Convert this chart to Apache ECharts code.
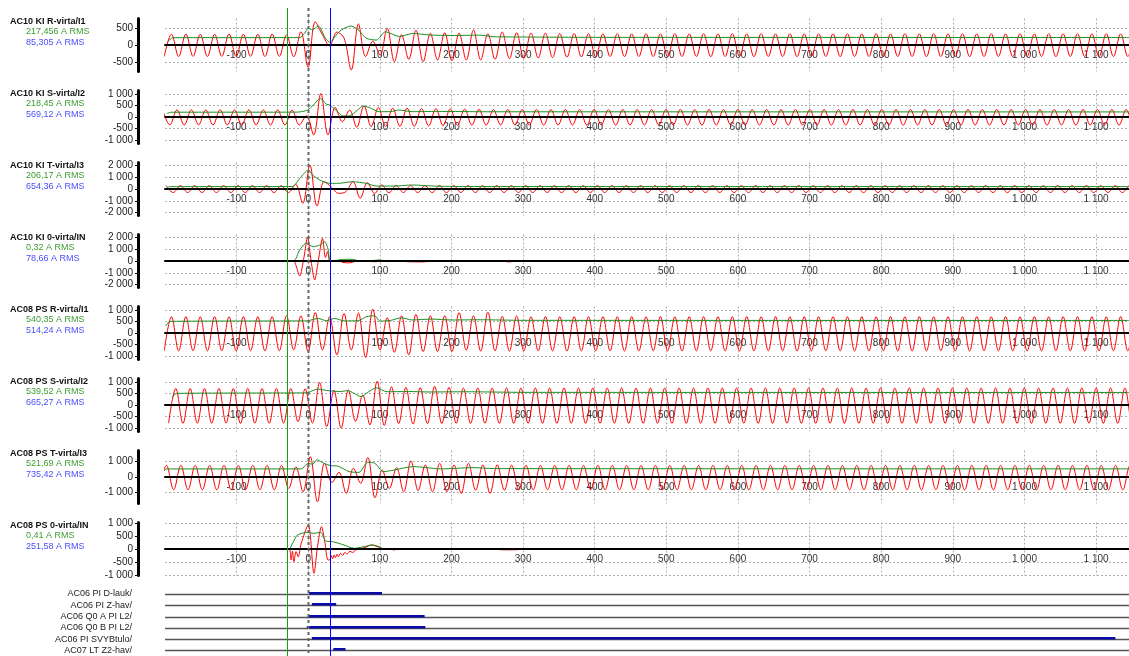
<!DOCTYPE html>
<html>
<head>
<meta charset="utf-8">
<script src="https://cdn.jsdelivr.net/npm/echarts@6/dist/echarts.min.js"></script>
<style>
  html, body { margin: 0; padding: 0; background: #fff; }
  #chart { width: 1129px; height: 656px; }
</style>
</head>
<body>
<div id="chart"></div>
<script>
// ---------------------------------------------------------------------------
// Disturbance record: feeders AC10 and AC08, phase and neutral currents (A),
// time in ms relative to the trigger.
// ---------------------------------------------------------------------------
const timeRange = [-200, 1146];
const cursorTimes = [-30, 0, 30];

const channelNames = [
  'AC10 KI R-virta/I1', 'AC10 KI S-virta/I2', 'AC10 KI T-virta/I3', 'AC10 KI 0-virta/IN',
  'AC08 PS R-virta/I1', 'AC08 PS S-virta/I2', 'AC08 PS T-virta/I3', 'AC08 PS 0-virta/IN'
];
const rmsTexts = [
  '217,456 A RMS', '218,45 A RMS', '206,17 A RMS', '0,32 A RMS',
  '540,35 A RMS', '539,52 A RMS', '521,69 A RMS', '0,41 A RMS'
];
const cursorTexts = [
  '85,305 A RMS', '569,12 A RMS', '654,36 A RMS', '78,66 A RMS',
  '514,24 A RMS', '665,27 A RMS', '735,42 A RMS', '251,58 A RMS'
];

// value-axis half ranges and tick labels for each channel
const axisRanges = [780, 1140, 2250, 2250, 1140, 1140, 1700, 1020];
const yTicks = [
  [-500, 0, 500],
  [-1000, -500, 0, 500, 1000],
  [-2000, -1000, 0, 1000, 2000],
  [-2000, -1000, 0, 1000, 2000],
  [-1000, -500, 0, 500, 1000],
  [-1000, -500, 0, 500, 1000],
  [-1000, 0, 1000],
  [-1000, -500, 0, 500, 1000]
];

// Phase currents: successive extrema, one per half cycle, starting at t0 (ms)
const HALF_CYCLE = 10.04;

const ac10R_t0 = -201;
const ac10R = [
  -335, 320, -340, 325, -335, 320, -340, 320, -335, 325,
  -340, 320, -335, 320, -340, 325, -335, 300, -345, 390,
  -655, 680, 300, -20, 380, 200, -735, 620, -340, 110,
  -290, 490, -490, 300, -420, 440, -490, 345, -440, 360,
  -460, 350, -440, 440, -440, 330, -420, 380, -400, 360,
  -390, 350, -380, 350, -370, 340, -360, 340, -350, 335,
  -345, 330, -340, 335, -345, 330, -340, 335, -340, 330,
  -345, 335, -340, 330, -340, 335, -345, 330, -340, 335,
  -340, 330, -345, 335, -340, 330, -340, 335, -345, 330,
  -340, 335, -340, 330, -345, 335, -340, 330, -340, 335,
  -345, 330, -340, 335, -340, 330, -345, 335, -340, 330,
  -340, 335, -345, 330, -340, 335, -340, 330, -345, 335,
  -340, 330, -340, 335, -345, 330, -340, 335, -340, 330,
  -345, 335, -340, 330, -340, 335, -345, 330, -340, 335
];

const ac10S_t0 = -203.3;
const ac10S = [
  310, -340, 305, -345, 310, -340, 305, -340, 310, -345,
  305, -340, 310, -340, 305, -345, 310, -340, 300, -340,
  60, -770, 1010, -770, 410, -200, 300, -440, 480, -410,
  410, -410, 380, -400, 380, -400, 370, -380, 360, -370,
  350, -360, 340, -350, 330, -350, 320, -345, 325, -350,
  320, -345, 325, -350, 320, -345, 325, -345, 320, -350,
  325, -345, 320, -350, 325, -345, 320, -345, 325, -350,
  320, -345, 325, -345, 320, -350, 325, -345, 320, -345,
  325, -350, 320, -345, 325, -345, 320, -350, 325, -345,
  320, -345, 325, -350, 320, -345, 325, -345, 320, -350,
  325, -345, 320, -350, 325, -345, 320, -345, 325, -350,
  320, -345, 325, -345, 320, -350, 325, -345, 320, -345,
  325, -350, 320, -345, 325, -345, 320, -350, 325, -345,
  320, -345, 325, -350, 320, -345, 325, -345, 320, -350
];

const ac10T_t0 = -198.5;
const ac10T = [
  280, -300, 285, -300, 280, -295, 280, -300, 285, -300,
  280, -300, 280, -300, 285, -300, 280, -300, 400, -1215,
  2030, -1440, 620, 150, -370, -230, 620, -790, 540, -370,
  340, -320, 300, -300, 290, -300, 280, -300, 285, -300,
  280, -295, 285, -300, 280, -300, 285, -295, 280, -300,
  285, -300, 280, -295, 280, -300, 285, -300, 280, -295,
  285, -300, 280, -300, 285, -295, 280, -300, 280, -300,
  285, -295, 280, -300, 285, -300, 280, -295, 285, -300,
  280, -300, 285, -295, 280, -300, 280, -300, 285, -295,
  280, -300, 285, -300, 280, -295, 285, -300, 280, -300,
  285, -295, 280, -300, 280, -300, 285, -295, 280, -300,
  285, -300, 280, -295, 285, -300, 280, -300, 285, -295,
  280, -300, 280, -300, 285, -295, 280, -300, 285, -300,
  280, -295, 285, -300, 280, -300, 285, -295, 280, -300
];

const ac08R_t0 = -201;
const ac08R = [
  -760, 700, -770, 705, -765, 700, -770, 705, -765, 700,
  -770, 705, -765, 700, -770, 705, -765, 740, -726, 740,
  -800, 880, -730, 700, -940, 840, -730, 860, -1054, 1025,
  -730, 655, -830, 740, -940, 800, -800, 740, -800, 740,
  -800, 880, -740, 740, -780, 900, -770, 720, -780, 730,
  -770, 700, -765, 705, -770, 700, -775, 705, -770, 700,
  -765, 705, -770, 700, -775, 705, -770, 700, -765, 705,
  -770, 700, -775, 705, -770, 700, -765, 705, -770, 700,
  -775, 705, -770, 700, -765, 705, -770, 700, -775, 705,
  -770, 700, -765, 705, -770, 700, -775, 705, -770, 700,
  -765, 705, -770, 700, -775, 705, -770, 700, -765, 705,
  -770, 700, -775, 705, -770, 700, -765, 705, -770, 700,
  -775, 705, -770, 700, -765, 705, -770, 700, -775, 705,
  -770, 700, -765, 705, -770, 700, -775, 705, -770, 700
];

const ac08S_t0 = -195;
const ac08S = [
  -780, 710, -790, 715, -780, 710, -785, 715, -780, 710,
  -790, 715, -780, 710, -785, 715, -780, 712, -712, 700,
  -780, 969, -926, 640, -997, 640, -700, 430, -855, 1025,
  -883, 783, -800, 760, -820, 750, -800, 800, -800, 760,
  -790, 730, -790, 735, -785, 730, -790, 735, -790, 730,
  -785, 735, -790, 730, -790, 735, -785, 730, -790, 735,
  -790, 730, -785, 735, -790, 730, -790, 735, -785, 730,
  -790, 735, -790, 730, -785, 735, -790, 730, -790, 735,
  -785, 730, -790, 735, -790, 730, -785, 735, -790, 730,
  -790, 735, -785, 730, -790, 735, -790, 730, -785, 735,
  -790, 730, -790, 735, -785, 730, -790, 735, -790, 730,
  -785, 735, -790, 730, -790, 735, -785, 730, -790, 735,
  -790, 730, -785, 735, -790, 730, -790, 735, -785, 730,
  -790, 735, -790, 730, -785, 735, -790, 730, -790, 735
];

const ac08T_t0 = -208;
const ac08T = [
  -820, 740, -815, 745, -820, 740, -815, 740, -820, 745,
  -815, 740, -820, 745, -815, 740, -820, 740, -731, 650,
  -946, 1312, -1591, 880, -350, 300, -1050, 560, -400, 1250,
  -1333, 450, -730, 600, -946, 1030, -870, 770, -946, 880,
  -946, 770, -1050, 880, -840, 770, -1054, 780, -840, 760,
  -830, 750, -820, 745, -815, 740, -820, 745, -820, 740,
  -815, 745, -820, 740, -820, 745, -815, 740, -820, 745,
  -820, 740, -815, 745, -820, 740, -820, 745, -815, 740,
  -820, 745, -820, 740, -815, 745, -820, 740, -820, 745,
  -815, 740, -820, 745, -820, 740, -815, 745, -820, 740,
  -820, 745, -815, 740, -820, 745, -820, 740, -815, 745,
  -820, 740, -820, 745, -815, 740, -820, 745, -820, 740,
  -815, 745, -820, 740, -820, 745, -815, 740, -820, 745,
  -820, 740, -815, 745, -820, 740, -820, 745, -815, 740
];

// Neutral currents: [time ms, A]
const ac10N = [
  [-200, 0], [-21, 0], [-17, -400], [-12, -1270], [-6, 300], [-1, 2000], [4, 0],
  [9, -1610], [14, 0], [20, 1920], [24, 300], [27, 800], [30, 0], [35, -50], [42, 0],
  [50, -140], [58, -160], [65, -40], [72, 0], [95, -60], [102, 20], [110, -60], [118, 0],
  [140, -60], [160, -80], [175, 0], [270, 0], [280, -80], [292, 0], [1146, 0]
];
const ac08N = [
  [-200, 0], [-27, 0], [-24, -423], [-22, -80], [-20, -487], [-17, -100], [-14, -300],
  [-10, 200], [0, 923], [8, -936], [13, 100], [18.5, 859], [23, 300], [27.5, -423],
  [30, -420], [32, -250], [34, -380], [36, -230], [38, -330], [40, -200], [42, -300],
  [45, -170], [48, -250], [51, -130], [54, -190], [58, -90], [62, -130], [66, -50],
  [70, 0], [80, 60], [88, 154], [96, 100], [104, 0], [115, 0], [120, -40], [125, 0],
  [260, 0], [270, -30], [290, -30], [300, 0], [1146, 0]
];

// RMS values: [time ms, A]
const ac10R_rms = [
  [-196, 100], [-189, 215], [-12, 218], [-5, 350], [0, 490], [6, 450], [14, 560], [24, 200],
  [30, 80], [39, 290], [46, 440], [60, 560], [71, 420], [81, 200], [95, 145], [108, 390],
  [127, 250], [146, 340], [170, 295], [200, 280], [240, 290], [258, 245], [300, 235],
  [400, 225], [1146, 220]
];
const ac10S_rms = [
  [-197, 150], [-192, 205], [-15, 210], [-1, 300], [7, 513], [17, 800], [25, 555], [30, 513],
  [41, 228], [48, 45], [57, 45], [69, 300], [76, 470], [85, 413], [99, 228], [115, 230],
  [126, 300], [145, 230], [180, 240], [250, 225], [1146, 218]
];
const ac10T_rms = [
  [-197, 150], [-192, 200], [-22, 210], [-12, 900], [0.5, 1610], [6, 1190], [18, 700],
  [31, 480], [42, 480], [62, 620], [81, 480], [95, 250], [120, 250], [146, 340], [175, 250],
  [220, 210], [1146, 206]
];
const ac10N_rms = [
  [-200, 0], [-21, 0], [-12, 930], [-3, 1500], [7, 1215], [16, 1360], [23, 1640], [28, 930],
  [30.5, 0], [40, 60], [49, 140], [63, 140], [70, 20], [90, 40], [98, 85], [110, 20],
  [140, 20], [1146, 10]
];
const ac08R_rms = [
  [-199, 300], [-193, 500], [-10, 520], [0, 530], [14, 627], [25, 530], [37, 627], [50, 520],
  [70, 530], [81, 698], [93, 740], [100, 513], [115, 540], [130, 655], [145, 560], [172, 600],
  [200, 560], [240, 570], [300, 545], [1146, 540]
];
const ac08S_rms = [
  [-190, 300], [-184, 500], [-10, 520], [0, 540], [13, 684], [29, 612], [45, 580], [55, 620],
  [64, 500], [74, 356], [84, 560], [95, 740], [110, 570], [140, 580], [170, 560], [220, 570],
  [300, 545], [1146, 540]
];
const ac08T_rms = [
  [-203, 300], [-198, 516], [-10, 520], [0, 880], [6, 820], [12, 1100], [22, 880], [31, 731],
  [42, 690], [57, 344], [71, 300], [83, 946], [93, 880], [105, 344], [120, 450], [146, 667],
  [165, 600], [185, 520], [230, 600], [260, 540], [1146, 522]
];
const ac08N_rms = [
  [-200, 0], [-27, 0], [-22, 218], [-15, 538], [-0.5, 641], [6.5, 603], [17.5, 641],
  [24.5, 308], [34, 282], [50, 154], [64, 26], [78, 90], [89, 154], [99, 90], [106, 0],
  [1146, 0]
];

// Binary signals: [on ms, off ms]
const digitalNames = [
  'AC06 PI D-lauk/', 'AC06 PI Z-hav/', 'AC06 Q0 A PI L2/',
  'AC06 Q0 B PI L2/', 'AC06 PI SVYBtulo/', 'AC07 LT Z2-hav/'
];
const digitalOn = [[1, 103], [5, 39], [-0.5, 162.5], [-2, 163.5], [5, 1127], [35, 52]];

// ---------------------------------------------------------------------------
function extremaSeries(t0, values) {
  return values.map((v, i) => [+(t0 + i * HALF_CYCLE).toFixed(2), v]);
}
const fmt = v => {
  const s = String(Math.abs(Math.round(v))).replace(/\B(?=(\d{3})+(?!\d))/g, ' ');
  return (v < 0 ? '-' : '') + s;
};

const waves = [
  extremaSeries(ac10R_t0, ac10R), extremaSeries(ac10S_t0, ac10S),
  extremaSeries(ac10T_t0, ac10T), ac10N,
  extremaSeries(ac08R_t0, ac08R), extremaSeries(ac08S_t0, ac08S),
  extremaSeries(ac08T_t0, ac08T), ac08N
];
const rmsLines = [ac10R_rms, ac10S_rms, ac10T_rms, ac10N_rms, ac08R_rms, ac08S_rms, ac08T_rms, ac08N_rms];
const smoothness = [0.36, 0.36, 0.36, 0.3, 0.36, 0.36, 0.36, 0.3];

// layout
const FONT = '"Liberation Sans", Arial, sans-serif';
const GRID_LEFT = 165;
const PANEL_TOP0 = 18.5;
const PANEL_PITCH = 72;
const PANEL_H = 53;

const grids = [], xAxes = [], yAxes = [], series = [], graphics = [];

channelNames.forEach((name, k) => {
  const top = PANEL_TOP0 + k * PANEL_PITCH;
  grids.push({ left: GRID_LEFT, right: 0, top: top, height: PANEL_H });
  // time axis sits on the zero line of the (symmetric) value axis
  xAxes.push({
    type: 'value', gridIndex: k, min: timeRange[0], max: timeRange[1], interval: 100,
    position: 'bottom', offset: -PANEL_H / 2,
    axisLine: { onZero: false, lineStyle: { color: '#000', width: 2 } },
    axisTick: { show: false },
    axisLabel: {
      margin: 5, fontSize: 10, color: '#333', fontFamily: FONT, formatter: fmt,
      showMinLabel: false, showMaxLabel: false, interval: 0
    },
    splitLine: { show: true, showMinLine: false, showMaxLine: false,
      lineStyle: { color: '#b0b0b0', width: 1, type: [2, 2] } }
  });
  yAxes.push({
    type: 'value', gridIndex: k, min: -axisRanges[k], max: axisRanges[k],
    position: 'left', offset: 27,
    axisLine: { show: true, onZero: false, lineStyle: { color: '#000', width: 3 } },
    axisTick: { show: true, length: 3, customValues: yTicks[k], lineStyle: { color: '#000' } },
    axisLabel: { customValues: yTicks[k], formatter: fmt, fontSize: 10, color: '#222',
      margin: 5, fontFamily: FONT },
    splitLine: { show: true, lineStyle: { color: '#b0b0b0', width: 1, type: [2, 2] } }
  });
  series.push({
    type: 'line', xAxisIndex: k, yAxisIndex: k, data: waves[k], smooth: smoothness[k],
    symbol: 'none', silent: true, z: 2,
    lineStyle: { color: '#ff0000', width: 1 }
  });
  series.push({
    type: 'line', xAxisIndex: k, yAxisIndex: k, data: rmsLines[k], smooth: 0.25,
    symbol: 'none', silent: true, z: 3,
    lineStyle: { color: '#1e8c1e', width: 1 },
    markLine: {
      silent: true, symbol: 'none', label: { show: false }, animation: false,
      lineStyle: { color: '#000', width: 2, type: 'solid' },
      data: [{ yAxis: 0 }]
    }
  });
  graphics.push(
    { type: 'text', x: 10, y: top + 3.2,
      style: { text: name, font: 'bold 9px ' + FONT, fill: '#111', verticalAlign: 'middle' } },
    { type: 'text', x: 26, y: top + 13.4,
      style: { text: rmsTexts[k], font: '9px ' + FONT, fill: '#3c9c32', verticalAlign: 'middle' } },
    { type: 'text', x: 26, y: top + 24,
      style: { text: cursorTexts[k], font: '9px ' + FONT, fill: '#4d4dff', verticalAlign: 'middle' } }
  );
});

// cursors spanning the whole record, one series each
const CUR = channelNames.length;
grids.push({ left: GRID_LEFT, right: 0, top: 8, bottom: 0 });
xAxes.push({ type: 'value', gridIndex: CUR, min: timeRange[0], max: timeRange[1], show: false });
yAxes.push({ type: 'value', gridIndex: CUR, min: 0, max: 1, show: false });
const cursorColors = ['#16a016', '#666666', '#0000ff'];
const cursorWidths = [1, 2, 1];
const cursorDashes = [null, [3, 3], null];
cursorTimes.forEach((t, i) => {
  series.push({
    type: 'custom', xAxisIndex: CUR, yAxisIndex: CUR, silent: true, z: 10,
    color: cursorColors[i],
    data: [[t, 0]],
    clip: false,
    renderItem: function (params, api) {
      const cs = params.coordSys;
      const x = Math.round(api.coord([api.value(0), 0])[0]) + 0.5;
      return {
        type: 'line',
        shape: { x1: x, y1: cs.y, x2: x, y2: cs.y + cs.height },
        style: { stroke: cursorColors[i], lineWidth: cursorWidths[i], lineDash: cursorDashes[i] }
      };
    }
  });
});

// binary signal rows
const DIG = CUR + 1;
grids.push({ left: GRID_LEFT, right: 0, top: 588.3, height: 71.7 });
xAxes.push({ type: 'value', gridIndex: DIG, min: timeRange[0], max: timeRange[1], show: false });
yAxes.push({
  type: 'category', gridIndex: DIG, data: digitalNames, inverse: true,
  axisLine: { show: false }, axisTick: { show: false }, splitLine: { show: false },
  axisLabel: { interval: 0, margin: 33, fontSize: 9, color: '#222', fontFamily: FONT }
});
series.push({
  type: 'custom', xAxisIndex: DIG, yAxisIndex: DIG, silent: true, z: 4,
  data: digitalOn.map((r, i) => [r[0], r[1], i]),
  encode: { x: [0, 1], y: 2 },
  renderItem: function (params, api) {
    const a = api.coord([api.value(0), api.value(2)]);
    const b = api.coord([api.value(1), api.value(2)]);
    const cs = params.coordSys;
    const y = Math.round(a[1]);
    return {
      type: 'group',
      children: [
        { type: 'line', shape: { x1: cs.x, y1: y + 0.5, x2: cs.x + cs.width, y2: y + 0.5 },
          style: { stroke: '#555', lineWidth: 1.5 } },
        { type: 'rect', shape: { x: a[0], y: y - 2, width: b[0] - a[0], height: 2.5 },
          style: { fill: '#0a0aa8' } }
      ]
    };
  }
});

const chart = echarts.init(document.getElementById('chart'), null, { renderer: 'canvas' });
chart.setOption({
  animation: false,
  backgroundColor: '#fff',
  textStyle: { fontFamily: FONT },
  grid: grids,
  xAxis: xAxes,
  yAxis: yAxes,
  series: series,
  graphic: graphics
});
</script>
</body>
</html>
